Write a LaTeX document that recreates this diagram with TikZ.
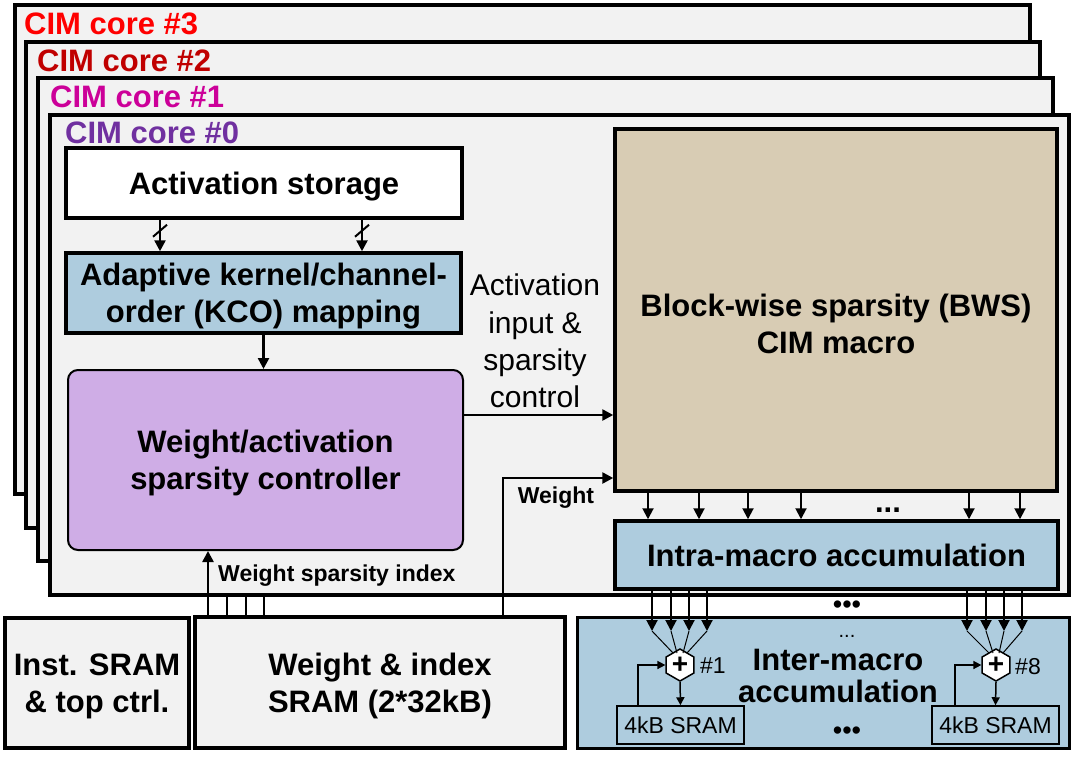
\documentclass[tikz,border=0pt]{standalone}
\usepackage{fontspec}
\setmainfont{Liberation Sans}
\usepackage{xcolor}
\usetikzlibrary{arrows.meta,shapes.geometric}
\definecolor{corefill}{RGB}{242,242,242}
\definecolor{accblue}{RGB}{174,204,222}
\definecolor{ctrlpurple}{RGB}{207,173,230}
\definecolor{bwsbeige}{RGB}{216,204,180}
\definecolor{corered}{RGB}{255,0,0}
\definecolor{coredarkred}{RGB}{192,0,0}
\definecolor{coremagenta}{RGB}{204,0,153}
\definecolor{corepurple}{RGB}{112,48,160}
\newcommand{\mainsize}{\fontsize{31}{37}\selectfont}
\newcommand{\labelsize}{\fontsize{23}{27}\selectfont}

\begin{document}
\begin{tikzpicture}[
		x=1pt, y=-1pt, % one unit = one pixel of the layout
		core/.style={rectangle, draw, line width=4pt, fill=corefill, inner sep=0pt},
		corelabel/.style={anchor=base west, inner sep=0pt, font=\bfseries\mainsize},
		box/.style={rectangle, draw, line width=3.5pt, inner sep=0pt, text depth=0pt, align=center, font=\bfseries\mainsize},
		txt/.style={inner sep=0pt, text depth=0pt, align=center, font=\bfseries\mainsize},
		smalltxt/.style={inner sep=0pt, text depth=0pt, font=\bfseries\labelsize},
		sram/.style={rectangle, draw, line width=1.5pt, inner sep=0pt, text depth=0pt, minimum width=127pt, minimum height=38pt, font=\labelsize},
		adder/.style={regular polygon, regular polygon sides=6, shape border rotate=30, draw, line width=1.5pt, fill=white, minimum size=32pt, inner sep=0pt, font=\bfseries\fontsize{28}{28}\selectfont},
		arr/.style={-{Triangle[length=11pt,width=11pt]}, line width=2.5pt},
		fb/.style={-{Triangle[length=8pt,width=8pt]}, line width=1.5pt}
		]
		
		\useasboundingbox (0,0) rectangle (1075,757);
		
		% CIM cores, back to front
		\node[core, minimum width=1015pt, minimum height=489pt] (core3) at (522.5,249.5) {};
		\node[corelabel, text=corered] (core3-label) at (24,35) {CIM core \#3};
		\node[core, minimum width=1014pt, minimum height=486pt] (core2) at (533,285) {};
		\node[corelabel, text=coredarkred] (core2-label) at (37,72) {CIM core \#2};
		\node[core, minimum width=1015pt, minimum height=483pt] (core1) at (545.5,319.5) {};
		\node[corelabel, text=coremagenta] (core1-label) at (50,107) {CIM core \#1};
		\node[core, minimum width=1019pt, minimum height=480pt] (core0) at (559.5,355) {};
		\node[corelabel, text=corepurple] (core0-label) at (65,143) {CIM core \#0};
		
		% Core #0 contents
		\node[box, fill=white, minimum width=396pt, minimum height=70pt] (act) at (264,183) {Activation storage};
		\node[box, fill=accblue, minimum width=395pt, minimum height=80pt] (kco) at (263.5,293) {Adaptive kernel/channel-\\order (KCO) mapping};
		\node[box, fill=ctrlpurple, line width=2pt, rounded corners=10pt, minimum width=395pt, minimum height=180pt] (ctrl) at (265.5,460) {Weight/activation\\sparsity controller};
		\node[box, fill=bwsbeige, minimum width=442pt, minimum height=362pt] (bws) at (836,310) {};
		\node[txt] (bws-text) at (836,324) {Block-wise sparsity (BWS)\\CIM macro};
		\node[box, fill=accblue, minimum width=443pt, minimum height=68pt] (intra) at (836.5,555) {Intra-macro accumulation};
		\node[inner sep=0pt, align=center, font=\fontsize{30}{37.3}\selectfont] (act-in) at (535,341) {Activation\\input \&\\sparsity\\control};
		
		% Bottom row
		\node[box, fill=corefill, minimum width=184pt, minimum height=130pt] (inst) at (97,683) {Inst. SRAM\\\& top ctrl.};
		\node[box, fill=corefill, minimum width=370pt, minimum height=131pt] (wsram) at (380,682.5) {Weight \& index\\SRAM (2*32kB)};
		\node[box, fill=accblue, line width=3pt, minimum width=492pt, minimum height=131pt] (inter) at (823,682.5) {};
		\node[txt, font=\bfseries\fontsize{31}{32}\selectfont] (inter-text) at (838,676) {Inter-macro\\accumulation};
		\node[sram] (sram1) at (680.5,725) {4kB SRAM};
		\node[sram] (sram8) at (995.5,725) {4kB SRAM};
		\node[adder] (add1) at (680,665) {+};
		\node[adder] (add8) at (996,665) {+};
		\node[anchor=west, inner sep=0pt, text depth=0pt, font=\labelsize] (add1-label) at (700,666) {\#1};
		\node[anchor=west, inner sep=0pt, text depth=0pt, font=\labelsize] (add8-label) at (1015,666) {\#8};
		\node[inner sep=0pt, font=\fontsize{27}{27}\selectfont] (dots-upper) at (847,607) {\textbullet\textbullet\textbullet};
		\node[inner sep=0pt, anchor=base, font=\fontsize{20}{20}\selectfont] (dots-mid) at (847,637) {...};
		\node[inner sep=0pt, font=\fontsize{27}{27}\selectfont] (dots-lower) at (847,733) {\textbullet\textbullet\textbullet};
		
		% Activation storage -> KCO (buses)
		\foreach \dx in {-104,98} {
			\draw[arr] ([xshift=\dx pt]act.south) -- ([xshift=\dx pt]act.south |- kco.north);
			\draw[line width=2pt] ([xshift=\dx pt, yshift=-11pt]act.south) ++(-7,6) -- ++(14,-12);
		}
		\draw[arr] (kco.south) -- (kco.south |- ctrl.north);
		\draw[arr] ([yshift=45pt]ctrl.east) -- ([yshift=45pt]ctrl.east -| bws.west);
		
		% Weights and index from the weight SRAM
		\draw[arr] ([xshift=123pt]wsram.north) |- ([yshift=-168pt]bws.west);
		\node[smalltxt] (weight-label) at (556,495) {Weight};
		\draw[arr] ([xshift=-172pt]wsram.north) -- ([xshift=-172pt]wsram.north |- ctrl.south);
		\node[smalltxt, anchor=west] (index-label) at (218,573) {Weight sparsity index};
		\foreach \dx in {-153,-134,-116}
			\draw[line width=1.5pt] ([xshift=\dx pt]wsram.north) -- ([xshift=\dx pt]wsram.north |- core0.south);
		
		% BWS macro -> intra-macro accumulation
		\foreach \x in {648,699,748,801,969,1020}
			\draw[arr, line width=2pt] (\x,0 |- bws.south) -- (\x,0 |- intra.north);
		\node[anchor=base, inner sep=0pt, font=\bfseries\mainsize] (dots-top) at (888,512) {...};
		
		% Intra -> inter-macro adders
		\foreach \x/\dx in {652/-7,671/-3,689/3,707/7} {
			\draw[arr, line width=2pt] (\x,0 |- intra.south) -- (\x,631);
			\draw[line width=1pt] (\x,631) -- ([shift={(\dx,-12)}]add1.center);
		}
		\foreach \x/\dx in {967/-7,986/-3,1004/3,1022/7} {
			\draw[arr, line width=2pt] (\x,0 |- intra.south) -- (\x,631);
			\draw[line width=1pt] (\x,631) -- ([shift={(\dx,-12)}]add8.center);
		}
		\draw[fb] (add1.south) -- (sram1.north);
		\draw[fb] ([xshift=-42.5pt]sram1.north) |- (add1.west);
		\draw[fb] (add8.south) -- (sram8.north);
		\draw[fb] ([xshift=-40.5pt]sram8.north) |- (add8.west);
	\end{tikzpicture}
\end{document}
